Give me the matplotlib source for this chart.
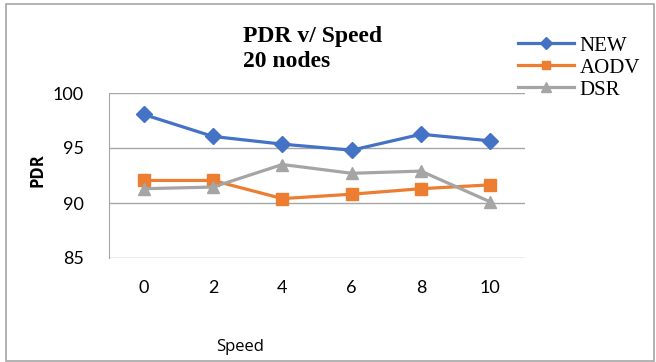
import matplotlib.pyplot as plt
from matplotlib.patches import Rectangle

speeds = ['0', '2', '4', '6', '8', '10']
new_pdr = [98.05, 96.05, 95.35, 94.8, 96.25, 95.65]
aodv_pdr = [92.05, 92.05, 90.4, 90.8, 91.3, 91.65]
dsr_pdr = [91.3, 91.45, 93.5, 92.7, 92.9, 90.1]

plt.rcParams['font.family'] = ['Lato', 'DejaVu Sans']

fig = plt.figure(figsize=(6.56, 3.62), dpi=100)
ax = fig.add_axes([109/656, 104/362, 416/656, 165/362])

x = range(len(speeds))
ax.plot(x, new_pdr, color='#4472C4', lw=2.3, marker='D', ms=8, label='NEW')
ax.plot(x, aodv_pdr, color='#ED7D31', lw=2.3, marker='s', ms=8.5, label='AODV')
ax.plot(x, dsr_pdr, color='#A5A5A5', lw=2.3, marker='^', ms=9, label='DSR')

ax.set_xlim(-0.5, 5.5)
ax.set_ylim(85, 100)
ax.set_yticks([85, 90, 95, 100])
ax.set_xticks(list(x))
ax.set_xticklabels(speeds)
ax.grid(axis='y', color='#A6A6A6', lw=1)
ax.set_axisbelow(True)
for s in ['top', 'right', 'bottom']:
    ax.spines[s].set_visible(False)
ax.spines['left'].set_color('#A6A6A6')
ax.tick_params(length=0, labelsize=13, colors='black')
ax.tick_params(axis='y', pad=18)
ax.tick_params(axis='x', pad=16)

fig.text(37/656, 1 - 170/362, 'PDR', rotation=90, ha='center', va='center',
         fontsize=12, fontweight='bold', family=['Open Sans', 'DejaVu Sans'])
fig.text(240/656, 1 - 347/362, 'Speed', ha='center', va='center', fontsize=12,
         family=['Open Sans', 'DejaVu Sans'])
fig.text(243/656, 1 - 42/362, 'PDR v/ Speed', ha='left', va='baseline',
         fontsize=17, fontweight='bold', family='Liberation Serif')
fig.text(243/656, 1 - 67/362, '20 nodes', ha='left', va='baseline',
         fontsize=17, fontweight='bold', family='Liberation Serif')

leg = fig.legend(loc='upper left', bbox_to_anchor=(518/656, 1 - 36/362),
                 frameon=False, prop={'family': 'Liberation Serif', 'size': 15},
                 handlelength=2.7, handletextpad=0.25, labelspacing=0.12,
                 borderaxespad=0, borderpad=0, markerscale=0.75)

fig.patches.append(Rectangle((6/656, 1/362), 648/656, 357/362, transform=fig.transFigure,
                             fill=False, edgecolor='#A6A6A6', lw=1.2))

fig.savefig('out.png', dpi=100)
